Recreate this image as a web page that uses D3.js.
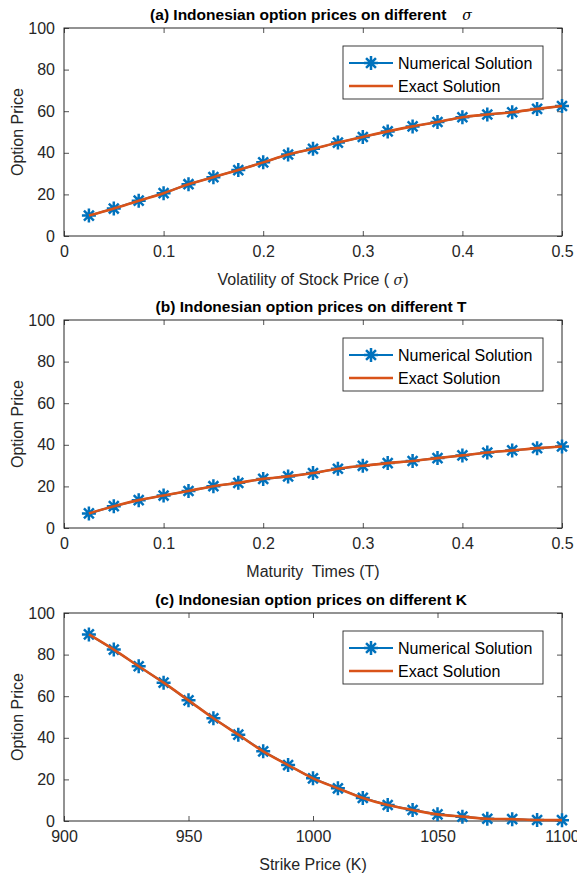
<!DOCTYPE html>
<html>
<head>
<meta charset="utf-8">
<script src="https://cdn.jsdelivr.net/npm/d3@7"></script>
<style>
  body { margin: 0; background: #fff; }
  svg { display: block; font-family: "Liberation Sans", Arial, Helvetica, sans-serif; }
  text { white-space: pre; }
</style>
</head>
<body>
<div id="chart"></div>
<script>
// ---- data ----
const sigmaVals = [0.025, 0.05, 0.075, 0.1, 0.125, 0.15, 0.175, 0.2, 0.225, 0.25,
                   0.275, 0.3, 0.325, 0.35, 0.375, 0.4, 0.425, 0.45, 0.475, 0.5];
const sigmaPrices = [9.8, 13.2, 17.0, 20.6, 24.9, 28.3, 31.7, 35.4, 39.2, 41.9,
                     44.9, 47.6, 50.3, 52.7, 54.8, 57.1, 58.4, 59.5, 61.1, 62.5];

const tVals = [0.025, 0.05, 0.075, 0.1, 0.125, 0.15, 0.175, 0.2, 0.225, 0.25,
               0.275, 0.3, 0.325, 0.35, 0.375, 0.4, 0.425, 0.45, 0.475, 0.5];
const tPrices = [7.0, 10.5, 13.4, 15.6, 17.8, 20.1, 21.7, 23.6, 24.8, 26.4,
                 28.5, 29.9, 31.2, 32.2, 33.6, 34.9, 36.3, 37.3, 38.4, 39.2];

const kVals = [910, 920, 930, 940, 950, 960, 970, 980, 990, 1000,
               1010, 1020, 1030, 1040, 1050, 1060, 1070, 1080, 1090, 1100];
const kPrices = [89.7, 82.4, 74.4, 66.5, 58.0, 49.4, 41.5, 33.5, 26.9, 20.5,
                 15.7, 11.1, 7.7, 5.3, 3.2, 2.1, 1.1, 0.9, 0.5, 0.4];

const xTicksSmall = [0, 0.1, 0.2, 0.3, 0.4, 0.5];
const xTicksK = [900, 950, 1000, 1050, 1100];
const yTicks = [0, 20, 40, 60, 80, 100];
const legendLabels = ["Numerical Solution", "Exact Solution"];

// ---- layout ----
const W = 577, H = 878;
const ink = "#262626";
const blue = "#0072BD", orange = "#D95319";

const svg = d3.select("#chart").append("svg")
    .attr("width", W)
    .attr("height", H);

const panels = [
    {top: 28, xs: sigmaVals, ys: sigmaPrices, xDomain: [0, 0.5], xTicks: xTicksSmall,
     title: "(a) Indonesian option prices on different", titleSym: "σ",
     xlabel: "Volatility of Stock Price ( ", xlabelSym: "σ", xlabelEnd: ")"},
    {top: 320, xs: tVals, ys: tPrices, xDomain: [0, 0.5], xTicks: xTicksSmall,
     title: "(b) Indonesian option prices on different T", xlabel: "Maturity  Times (T)"},
    {top: 613, xs: kVals, ys: kPrices, xDomain: [900, 1100], xTicks: xTicksK,
     title: "(c) Indonesian option prices on different K", xlabel: "Strike Price (K)"}
];

const left = 64, right = 562, plotH = 208;

// asterisk marker path (MATLAB '*')
function starPath(r) {
    const d = r * Math.SQRT1_2;
    return `M${-r},0L${r},0M0,${-r}L0,${r}M${-d},${-d}L${d},${d}M${-d},${d}L${d},${-d}`;
}

panels.forEach(p => drawPanel(p));

function drawPanel(p) {
    const g = svg.append("g").attr("transform", `translate(0,${p.top})`);

    const x = d3.scaleLinear().domain(p.xDomain).range([left, right]);
    const y = d3.scaleLinear().domain([0, 100]).range([plotH, 0]);

    // axes with inward ticks (MATLAB style)
    const fmt = d => d3.format("~g")(d);
    const bottom = g.append("g").attr("transform", `translate(0,${plotH})`)
        .call(d3.axisBottom(x).tickValues(p.xTicks).tickFormat(fmt).tickSizeInner(-5).tickSizeOuter(0).tickPadding(10));
    const top = g.append("g")
        .call(d3.axisTop(x).tickValues(p.xTicks).tickFormat("").tickSizeInner(-5).tickSizeOuter(0));
    const leftAx = g.append("g").attr("transform", `translate(${left},0)`)
        .call(d3.axisLeft(y).tickValues(yTicks).tickSizeInner(-5).tickSizeOuter(0).tickPadding(9));
    const rightAx = g.append("g").attr("transform", `translate(${right},0)`)
        .call(d3.axisRight(y).tickValues(yTicks).tickFormat("").tickSizeInner(-5).tickSizeOuter(0));

    [bottom, top, leftAx, rightAx].forEach(a => {
        a.select(".domain").remove();
        a.selectAll("line").attr("stroke", ink).attr("stroke-width", 0.8);
        a.selectAll("text").attr("fill", ink).style("font-size", "16px")
            .style("font-family", "'Liberation Sans', Arial, sans-serif");
    });

    // box
    g.append("rect")
        .attr("x", left).attr("y", 0)
        .attr("width", right - left).attr("height", plotH)
        .attr("fill", "none").attr("stroke", ink).attr("stroke-width", 1);

    const pts = p.xs.map((v, i) => ({x: v, y: p.ys[i]}));
    const line = d3.line().x(d => x(d.x)).y(d => y(d.y));

    // numerical solution: line + asterisks
    g.append("path").datum(pts)
        .attr("d", line)
        .attr("fill", "none").attr("stroke", blue).attr("stroke-width", 2);
    g.selectAll(".star").data(pts).enter().append("path")
        .attr("class", "star")
        .attr("transform", d => `translate(${x(d.x)},${y(d.y)})`)
        .attr("d", starPath(7))
        .attr("stroke", blue).attr("stroke-width", 2.5).attr("fill", "none");

    // exact solution
    g.append("path").datum(pts)
        .attr("d", d3.line().curve(d3.curveMonotoneX).x(d => x(d.x)).y(d => y(d.y)))
        .attr("fill", "none").attr("stroke", orange).attr("stroke-width", 2.6);

    // title
    const t = g.append("text")
        .attr("x", (left + right) / 2 - 2).attr("y", -8)
        .attr("text-anchor", "middle")
        .attr("fill", "#000")
        .style("font-size", "15.5px").style("font-weight", "bold")
        .text(p.title);
    if (p.titleSym) {
        t.append("tspan").attr("dx", 16)
            .style("font-weight", "normal").style("font-style", "italic")
            .style("font-family", "'DejaVu Serif', serif").style("font-size", "14px")
            .text(p.titleSym);
    }

    // x label
    const xl = g.append("text")
        .attr("x", (left + right) / 2).attr("y", plotH + 49)
        .attr("text-anchor", "middle").attr("fill", ink)
        .style("font-size", "16px")
        .text(p.xlabel);
    if (p.xlabelSym) {
        xl.append("tspan").style("font-style", "italic")
            .style("font-family", "'DejaVu Serif', serif").style("font-size", "14px")
            .text(p.xlabelSym);
        xl.append("tspan").text(p.xlabelEnd);
    }

    // y label
    g.append("text")
        .attr("transform", `translate(23,${plotH / 2}) rotate(-90)`)
        .attr("text-anchor", "middle").attr("fill", ink)
        .style("font-size", "16px")
        .text("Option Price");

    // legend
    const lg = g.append("g").attr("transform", `translate(343,18)`);
    lg.append("rect").attr("width", 200).attr("height", 53)
        .attr("fill", "#fff").attr("stroke", ink).attr("stroke-width", 0.9);
    const rows = [{c: blue, w: 2, star: true}, {c: orange, w: 2.6, star: false}];
    rows.forEach((r, i) => {
        const cy = 17 + i * 23;
        lg.append("line").attr("x1", 6).attr("x2", 50).attr("y1", cy).attr("y2", cy)
            .attr("stroke", r.c).attr("stroke-width", r.w);
        if (r.star) {
            lg.append("path").attr("transform", `translate(28,${cy})`)
                .attr("d", starPath(7)).attr("stroke", r.c).attr("stroke-width", 2.5);
        }
        lg.append("text").attr("x", 55).attr("y", cy).attr("dy", "0.35em")
            .attr("fill", "#000").style("font-size", "16px")
            .text(legendLabels[i]);
    });
}
</script>
</body>
</html>
